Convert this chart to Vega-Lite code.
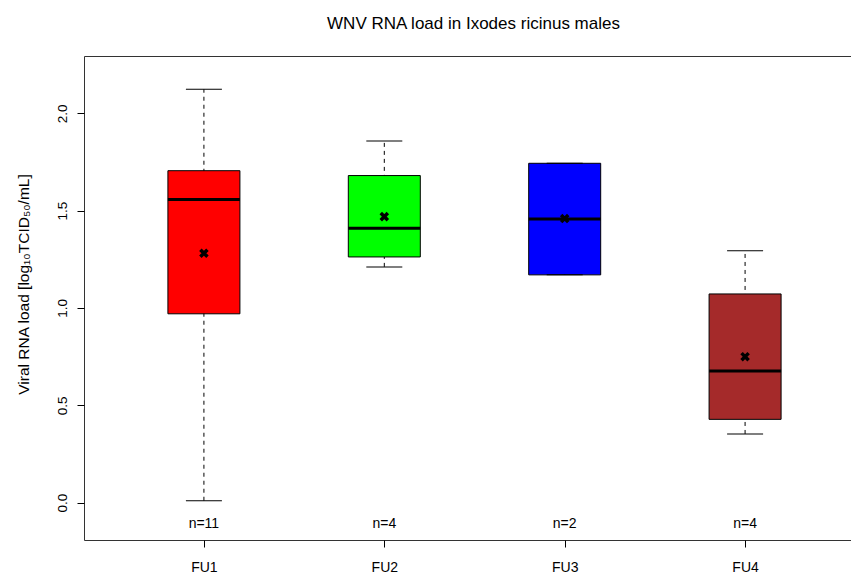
{
  "$schema": "https://vega.github.io/schema/vega-lite/v6.json",
  "width": 767,
  "height": 484,
  "autosize": {"type": "none"},
  "padding": {"left": 84, "top": 56, "right": 0, "bottom": 37},
  "background": "white",
  "config": {
    "font": "Liberation Sans",
    "view": {"stroke": "#333", "strokeWidth": 1},
    "axis": {"grid": false, "domain": false, "tickColor": "black", "tickSize": 7, "labelColor": "black", "titleColor": "black", "labelFont": "Liberation Sans", "titleFont": "Liberation Sans", "titleFontWeight": "normal"}
  },
  "title": {
    "text": "WNV RNA load in Ixodes ricinus males",
    "font": "Liberation Sans",
    "fontSize": 17,
    "fontWeight": "normal",
    "color": "black",
    "anchor": "middle",
    "frame": "group",
    "dx": 6,
    "baseline": "alphabetic",
    "offset": 10
  },
  "data": {
    "values": [
      {"group": "FU1", "min": 0.01, "q1": 0.97, "median": 1.557, "q3": 1.705, "max": 2.123, "mean": 1.281, "n": "n=11", "color": "#FF0000"},
      {"group": "FU2", "min": 1.211, "q1": 1.262, "median": 1.409, "q3": 1.68, "max": 1.858, "mean": 1.469, "n": "n=4", "color": "#00FF00"},
      {"group": "FU3", "min": 1.17, "q1": 1.17, "median": 1.457, "q3": 1.743, "max": 1.743, "mean": 1.459, "n": "n=2", "color": "#0000FF"},
      {"group": "FU4", "min": 0.353, "q1": 0.428, "median": 0.676, "q3": 1.072, "max": 1.294, "mean": 0.75, "n": "n=4", "color": "#A52A2A"}
    ]
  },
  "encoding": {
    "x": {
      "field": "group",
      "type": "nominal",
      "scale": {"type": "point", "padding": 0.6259, "align": 0.531},
      "axis": {"title": null, "labelAngle": 0, "labelFontSize": 14, "labelBaseline": "alphabetic", "labelPadding": 24}
    }
  },
  "layer": [
    {
      "mark": {"type": "rule", "color": "black", "strokeWidth": 1, "strokeDash": [4, 4]},
      "encoding": {
        "y": {
          "field": "min",
          "type": "quantitative",
          "scale": {"domain": [-0.1916, 2.294], "nice": false, "zero": false},
          "axis": {
            "title": "Viral RNA load [log₁₀TCID₅₀/mL]",
            "titleFontSize": 15.5,
            "titleAngle": -90,
            "titleBaseline": "alphabetic",
            "titleX": -56,
            "titleY": 228,
            "values": [0, 0.5, 1, 1.5, 2],
            "format": ".1f",
            "labelAngle": -90,
            "labelAlign": "center",
            "labelBaseline": "alphabetic",
            "labelPadding": 11,
            "labelFontSize": 13.5
          }
        },
        "y2": {"field": "max"}
      }
    },
    {
      "mark": {"type": "bar", "size": 72, "stroke": "black", "strokeWidth": 1},
      "encoding": {
        "y": {"field": "q1", "type": "quantitative"},
        "y2": {"field": "q3"},
        "fill": {"field": "color", "type": "nominal", "scale": null}
      }
    },
    {
      "mark": {"type": "tick", "orient": "horizontal", "size": 36, "thickness": 1, "color": "black", "opacity": 1},
      "encoding": {"y": {"field": "min", "type": "quantitative"}}
    },
    {
      "mark": {"type": "tick", "orient": "horizontal", "size": 36, "thickness": 1, "color": "black", "opacity": 1},
      "encoding": {"y": {"field": "max", "type": "quantitative"}}
    },
    {
      "mark": {"type": "tick", "orient": "horizontal", "size": 72, "thickness": 3, "color": "black", "opacity": 1},
      "encoding": {"y": {"field": "median", "type": "quantitative"}}
    },
    {
      "mark": {"type": "point", "shape": "M-1,-1L1,1M-1,1L1,-1", "size": 50, "filled": false, "stroke": "black", "strokeWidth": 3.5, "opacity": 1},
      "encoding": {"y": {"field": "mean", "type": "quantitative"}}
    },
    {
      "mark": {"type": "text", "fontSize": 14, "color": "black", "baseline": "alphabetic", "align": "center"},
      "encoding": {
        "y": {"datum": -0.13, "type": "quantitative"},
        "text": {"field": "n"}
      }
    }
  ]
}
